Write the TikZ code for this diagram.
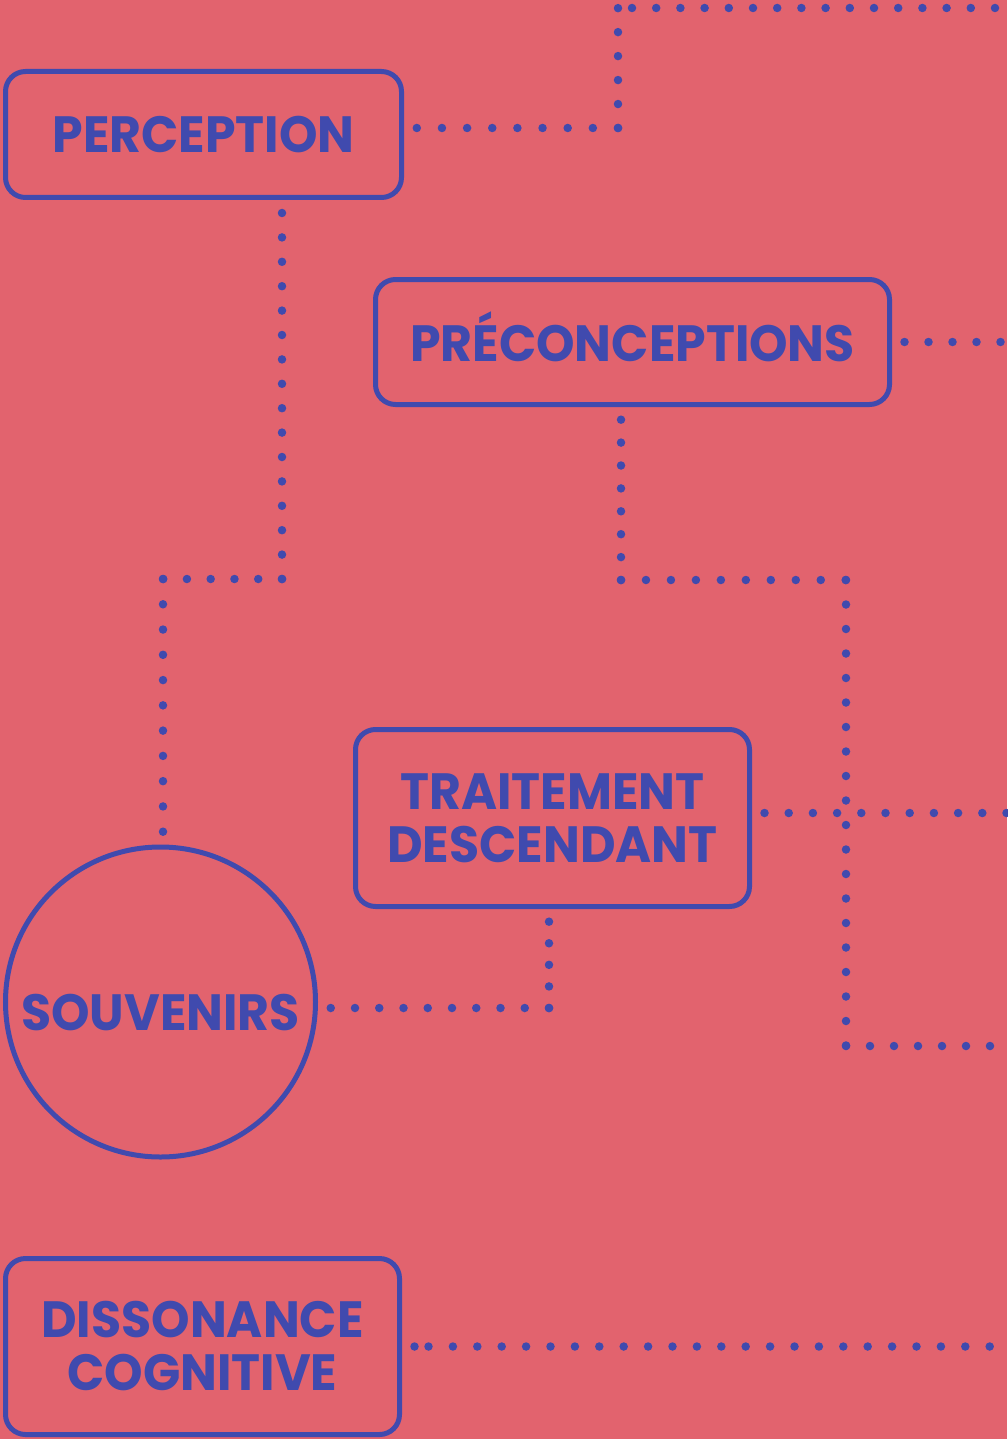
\documentclass[tikz,border=0pt]{standalone}
\usepackage{fontspec}
\setmainfont{Poppins}[FakeStretch=0.96]
\usepackage{tikz}
\definecolor{bgred}{HTML}{E2636E}
\definecolor{inkblue}{HTML}{404AAE}
\tikzset{box/.style={draw=inkblue, line width=5, rounded corners=20, outer sep=15,
		text=inkblue, align=center, font=\fontsize{51}{53}\selectfont\bfseries},
	roundbox/.style={box, circle, minimum size=310, inner sep=0},
	dotline/.style={draw=inkblue, line width=8.5, line cap=round, dash pattern=on 0pt off #1},
	dotline/.default=24.5,
}

\begin{document}
\begin{tikzpicture}[x=1pt,y=-1pt]
\fill[bgred] (0,0) rectangle (1007,1439);
		\useasboundingbox (0,0) rectangle (1007,1439);
		\node[box, minimum width=396, minimum height=126, text height=37, text depth=0] (perception) at (203.5,134.5) {PERCEPTION};
		\node[box, minimum width=514, minimum height=125, text height=38, text depth=0] (preconceptions) at (632.5,342) {PRÉCONCEPTIONS};
		\node[box, minimum width=394, minimum height=177] (traitement) at (552.5,818) {TRAITEMENT\\DESCENDANT};
		\node[roundbox, text height=56, text depth=0] (souvenirs) at (160.5,1002) {SOUVENIRS};
		\node[box, minimum width=394, minimum height=176] (dissonance) at (202.5,1346.5) {DISSONANCE\\COGNITIVE};
		
		\coordinate (a1) at (618,128);
		\coordinate (a2) at (618,8);
		\coordinate (a3) at (1007,8);
		\draw[dotline=25.15] (a1) -- (perception.east |- a1);
		\draw[dotline=23.97] (a1) -- (a2);
		\draw[dotline=24.2] ([xshift=14]a2) -- (a3);
		
		\draw[dotline=24] (preconceptions.east) -- (preconceptions.east -| a3);
		
		\coordinate (b1) at (282,579);
		\coordinate (b2) at (163,579);
		\draw[dotline=24.4] (b1) -- (perception.south -| b1);
		\draw[dotline=23.77] (b1) -- (b2);
		\draw[dotline=25.27] (b2) -- (souvenirs.north -| b2);
		
		\coordinate (c1) at (621,580);
		\coordinate (c2) at (846,580);
		\coordinate (c3) at (846,1046);
		\coordinate (c4) at (1007,1046);
		\draw[dotline=22.9] (c1) -- (preconceptions.south -| c1);
		\draw[dotline=24.97] (c1) -- (c2);
		\draw[dotline=24.5] (c2) -- (c3);
		\draw[dotline=24] (c3) -- (c4);
		
		\coordinate (d1) at (1007,813);
		\draw[dotline=24.2] (traitement.east |- d1) -- (d1);
		
		\coordinate (e1) at (549,1008);
		\draw[dotline=21.58] (e1) -- (traitement.south -| e1);
		\draw[dotline=24.25] (e1) -- (souvenirs.east |- e1);
		
		\fill[inkblue] (dissonance.east) circle (4.25);
		\draw[dotline=24.4] ([xshift=14]dissonance.east) -- (dissonance.east -| a3);
\end{tikzpicture}
\end{document}
